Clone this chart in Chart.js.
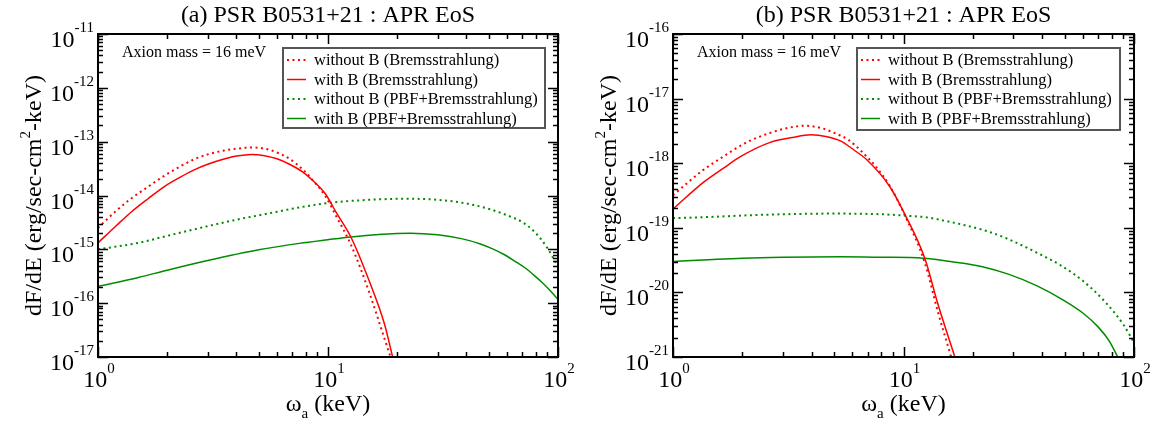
<!DOCTYPE html>
<html>
<head>
<meta charset="utf-8">
<script src="https://cdn.jsdelivr.net/npm/chart.js@4.4.0/dist/chart.umd.min.js"></script>
<style>
body { margin: 0; background: #fff; }
#wrap { position: relative; width: 1165px; height: 428px; }
canvas { position: absolute; top: 0; }
</style>
</head>
<body>
<div id="wrap">
  <canvas id="left_chart" width="600" height="428" style="left:0"></canvas>
  <canvas id="right_chart" width="585" height="428" style="left:580px"></canvas>
</div>
<script>
// series labels (same for both panels)
var series_labels = ["without B (Bremsstrahlung)", "with B (Bremsstrahlung)",
                     "without B (PBF+Bremsstrahlung)", "with B (PBF+Bremsstrahlung)"];

// (a) panel data, omega_a in keV, dF/dE in erg/sec-cm2-keV
var a_brems_noB_x = [1, 1.2, 1.4, 1.65, 1.95, 2.3, 2.62, 3.0, 3.5, 4.0, 4.64, 5.3, 6.0, 6.8, 7.8, 8.7, 9.7, 10.9, 12.6, 15.1, 17.6, 18.7];
var a_brems_noB_y = [2.5e-15, 5.2e-15, 8.9e-15, 1.45e-14, 2.35e-14, 3.55e-14, 4.7e-14, 5.8e-14, 6.8e-14, 7.4e-14, 7.8e-14, 7.4e-14, 6.3e-14, 4.8e-14, 3.0e-14, 1.8e-14, 1.0e-14, 4.0e-15, 1.2e-15, 1.6e-16, 2.2e-17, 1e-17];
var a_brems_B_x = [1, 1.2, 1.4, 1.65, 1.95, 2.3, 2.62, 3.0, 3.5, 4.0, 4.64, 5.3, 6.0, 6.8, 7.8, 8.7, 9.7, 10.9, 12.6, 15.1, 17.6, 19.1];
var a_brems_B_y = [1.32e-15, 2.75e-15, 5.0e-15, 8.7e-15, 1.48e-14, 2.24e-14, 3.0e-14, 3.8e-14, 4.7e-14, 5.4e-14, 5.8e-14, 5.5e-14, 4.8e-14, 3.8e-14, 2.7e-14, 1.8e-14, 1.1e-14, 4.7e-15, 1.66e-15, 2.6e-16, 4.1e-17, 1e-17];
var a_pbf_noB_x = [1, 1.5, 2, 3, 4, 5.6, 7.5, 10.5, 15, 22, 30, 40, 51, 60, 70, 80, 90, 100];
var a_pbf_noB_y = [1.0e-15, 1.32e-15, 1.78e-15, 2.7e-15, 3.55e-15, 4.7e-15, 6.0e-15, 7.4e-15, 8.3e-15, 8.7e-15, 8.3e-15, 7.1e-15, 5.5e-15, 4.3e-15, 3.2e-15, 2.0e-15, 1.05e-15, 4.7e-16];
var a_pbf_B_x = [1, 1.5, 2, 3, 5, 7.5, 10, 12.6, 16, 22.8, 30, 38, 46, 52, 58, 65, 72, 79, 86, 93, 100];
var a_pbf_B_y = [2.05e-16, 3.0e-16, 4.1e-16, 6.2e-16, 9.8e-16, 1.29e-15, 1.51e-15, 1.7e-15, 1.86e-15, 2.0e-15, 1.86e-15, 1.58e-15, 1.26e-15, 1.02e-15, 8.1e-16, 6.0e-16, 4.5e-16, 3.25e-16, 2.34e-16, 1.66e-16, 1.17e-16];

// (b) panel data
var b_brems_noB_x = [1, 1.35, 1.65, 2.03, 2.64, 3.2, 3.69, 4.4, 5.0, 5.77, 6.6, 7.5, 8.7, 10.1, 12.4, 14.1, 16.1];
var b_brems_noB_y = [3.2e-19, 7.8e-19, 1.26e-18, 2.0e-18, 2.95e-18, 3.55e-18, 3.8e-18, 3.5e-18, 2.95e-18, 2.3e-18, 1.5e-18, 9.3e-19, 4.5e-19, 1.6e-19, 2.8e-20, 5e-21, 1e-21];
var b_brems_B_x = [1, 1.35, 1.65, 1.96, 2.64, 3.3, 3.97, 4.6, 5.35, 6.1, 6.95, 8.7, 10.1, 12.4, 14.1, 16.7];
var b_brems_B_y = [1.95e-19, 5.0e-19, 8.3e-19, 1.26e-18, 2.1e-18, 2.5e-18, 2.75e-18, 2.6e-18, 2.2e-18, 1.6e-18, 1.12e-18, 4.4e-19, 1.66e-19, 3.3e-20, 6.6e-21, 1e-21];
var b_pbf_noB_x = [1, 1.5, 2, 3, 5, 8, 10, 12.6, 15, 18, 23, 28.7, 38, 48, 60, 75, 90, 100];
var b_pbf_noB_y = [1.41e-19, 1.48e-19, 1.55e-19, 1.62e-19, 1.66e-19, 1.62e-19, 1.55e-19, 1.45e-19, 1.29e-19, 1.12e-19, 8.9e-20, 6.6e-20, 4.1e-20, 2.63e-20, 1.51e-20, 7.1e-21, 3.16e-21, 1.66e-21];
var b_pbf_B_x = [1, 1.5, 2, 3, 5.35, 8, 12.2, 16, 22, 28.7, 38, 50, 60, 70, 78, 85];
var b_pbf_B_y = [3.0e-20, 3.24e-20, 3.39e-20, 3.5e-20, 3.55e-20, 3.5e-20, 3.39e-20, 3.0e-20, 2.5e-20, 1.9e-20, 1.26e-20, 7.4e-21, 4.8e-21, 2.9e-21, 1.78e-21, 1e-21];

// axes
var x_decades = [1, 10, 100];
var x_tick_exp = ["0", "1", "2"];
var a_y_decades = [1e-17, 1e-16, 1e-15, 1e-14, 1e-13, 1e-12, 1e-11];
var a_y_tick_exp = ["-17", "-16", "-15", "-14", "-13", "-12", "-11"];
var b_y_decades = [1e-21, 1e-20, 1e-19, 1e-18, 1e-17, 1e-16];
var b_y_tick_exp = ["-21", "-20", "-19", "-18", "-17", "-16"];

var RED = "#ff0000";
var GREEN = "#008b00";
var FONT = '"Liberation Serif", "Times New Roman", serif';

function pts(xs, ys) {
    var out = [];
    for (var i = 0; i < xs.length; i++) out.push({x: xs[i], y: ys[i]});
    return out;
}

function ds(label, xs, ys, color, dotted) {
    return {
        label: label,
        data: pts(xs, ys),
        borderColor: color,
        backgroundColor: color,
        borderWidth: dotted ? 2 : 1.5,
        borderDash: dotted ? [2, 3.5] : [],
        pointRadius: 0,
        cubicInterpolationMode: 'monotone',
        fill: false
    };
}

function drawPow(ctx, exp, x, baseY, supY, align) {
    ctx.font = '24px ' + FONT;
    var w1 = ctx.measureText('10').width;
    ctx.font = '15px ' + FONT;
    var w2 = ctx.measureText(exp).width;
    var left = align === 'center' ? x - (w1 + w2) / 2 : x - (w1 + w2);
    ctx.textAlign = 'left';
    ctx.font = '24px ' + FONT;
    ctx.fillText('10', left, baseY);
    ctx.font = '15px ' + FONT;
    ctx.fillText(exp, left + w1, supY);
}

// frame, ticks, labels, legend: xmgrace look
var panelDecor = {
    id: 'panelDecor',
    afterDraw: function(chart) {
        var o = chart.options.plugins.panelDecor;
        var ctx = chart.ctx, a = chart.chartArea;
        var xs = chart.scales.x, ys = chart.scales.y;
        ctx.save();
        ctx.fillStyle = '#000';
        ctx.strokeStyle = '#000';
        ctx.textBaseline = 'alphabetic';

        // ticks on x (bottom + top)
        ctx.lineWidth = 1.5;
        ctx.beginPath();
        for (var i = 0; i < o.xDec.length; i++) {
            for (var m = 1; m <= 9; m++) {
                if (i === o.xDec.length - 1 && m > 1) break;
                var px = Math.round(xs.getPixelForValue(o.xDec[i] * m)) + 0.5;
                var len = m === 1 ? 10 : 5;
                ctx.moveTo(px, a.bottom); ctx.lineTo(px, a.bottom - len);
                ctx.moveTo(px, a.top); ctx.lineTo(px, a.top + len);
            }
        }
        // ticks on y (left + right)
        for (var j = 0; j < o.yDec.length; j++) {
            for (var n = 1; n <= 9; n++) {
                if (j === o.yDec.length - 1 && n > 1) break;
                var py = Math.round(ys.getPixelForValue(o.yDec[j] * n)) + 0.5;
                var l2 = n === 1 ? 10 : 5;
                ctx.moveTo(a.left, py); ctx.lineTo(a.left + l2, py);
                ctx.moveTo(a.right, py); ctx.lineTo(a.right - l2, py);
            }
        }
        ctx.stroke();

        // frame
        ctx.lineWidth = 2;
        ctx.strokeRect(a.left, a.top, a.right - a.left, a.bottom - a.top);

        // tick labels
        for (var k = 0; k < o.xDec.length; k++) {
            var tx = xs.getPixelForValue(o.xDec[k]);
            drawPow(ctx, o.xExp[k], tx + 1, a.bottom + 30, a.bottom + 16, 'center');
        }
        for (var q = 0; q < o.yDec.length; q++) {
            var ty = ys.getPixelForValue(o.yDec[q]);
            drawPow(ctx, o.yExp[q], a.left - 4, ty + 13, ty - 2, 'right');
        }

        // title
        ctx.font = '24px ' + FONT;
        ctx.textAlign = 'center';
        ctx.fillText(o.title, (a.left + a.right) / 2, 22);

        // x axis title: omega_a (keV)
        ctx.font = '24px ' + FONT;
        var w_om = ctx.measureText('\u03c9').width;
        var w_rest = ctx.measureText(' (keV)').width;
        ctx.font = '15px ' + FONT;
        var w_a = ctx.measureText('a').width;
        var sx = (a.left + a.right) / 2 - (w_om + w_a + w_rest) / 2;
        ctx.textAlign = 'left';
        ctx.font = '24px ' + FONT;
        ctx.fillText('\u03c9', sx, a.bottom + 54);
        ctx.fillText(' (keV)', sx + w_om + w_a, a.bottom + 54);
        ctx.font = '15px ' + FONT;
        ctx.fillText('a', sx + w_om, a.bottom + 61);

        // y axis title
        ctx.save();
        ctx.translate(a.left - 57, (a.top + a.bottom) / 2);
        ctx.rotate(-Math.PI / 2);
        ctx.font = '24px ' + FONT;
        var t1 = 'dF/dE (erg/sec-cm', t3 = '-keV)';
        var w1 = ctx.measureText(t1).width, w3 = ctx.measureText(t3).width;
        ctx.font = '15px ' + FONT;
        var w2 = ctx.measureText('2').width;
        var ly = -(w1 + w2 + w3) / 2;
        ctx.font = '24px ' + FONT;
        ctx.fillText(t1, ly, 0);
        ctx.fillText(t3, ly + w1 + w2, 0);
        ctx.font = '15px ' + FONT;
        ctx.fillText('2', ly + w1, -11);
        ctx.restore();

        // annotation
        ctx.font = '16px ' + FONT;
        ctx.textAlign = 'left';
        ctx.fillText(o.note, a.left + 24, 57);

        // legend box
        var bx = a.left + o.legLeft, by = a.top + 14, bw = a.right - o.legRight - bx, bh = o.legH;
        ctx.fillStyle = '#fff';
        ctx.fillRect(bx, by, bw, bh);
        ctx.strokeStyle = '#555';
        ctx.lineWidth = 2;
        ctx.strokeRect(bx, by, bw, bh);
        var dsets = chart.data.datasets;
        for (var r = 0; r < dsets.length; r++) {
            var ry = by + 12 + r * 19.5;
            ctx.strokeStyle = dsets[r].borderColor;
            ctx.lineWidth = dsets[r].borderWidth;
            ctx.setLineDash(dsets[r].borderDash);
            ctx.beginPath();
            ctx.moveTo(bx + 4, ry);
            ctx.lineTo(bx + 23, ry);
            ctx.stroke();
            ctx.setLineDash([]);
            ctx.fillStyle = '#000';
            ctx.font = '16.5px ' + FONT;
            ctx.fillText(dsets[r].label, bx + 31, ry + 5);
        }
        ctx.restore();
    }
};

function makePanel(id, padding, ymin, ymax, datasets, decor) {
    var ctx = document.getElementById(id).getContext("2d");
    return new Chart(ctx, {
        type: "line",
        data: { datasets: datasets },
        options: {
            responsive: false,
            animation: false,
            layout: { padding: padding },
            scales: {
                x: { type: 'logarithmic', min: 1, max: 100, display: false },
                y: { type: 'logarithmic', min: ymin, max: ymax, display: false }
            },
            plugins: {
                legend: { display: false },
                tooltip: { enabled: false },
                panelDecor: decor
            }
        },
        plugins: [panelDecor]
    });
}

var chartA = makePanel("left_chart", {left: 98, right: 42, top: 34, bottom: 71}, 1e-17, 1e-11, [
    ds(series_labels[0], a_brems_noB_x, a_brems_noB_y, RED, true),
    ds(series_labels[1], a_brems_B_x, a_brems_B_y, RED, false),
    ds(series_labels[2], a_pbf_noB_x, a_pbf_noB_y, GREEN, true),
    ds(series_labels[3], a_pbf_B_x, a_pbf_B_y, GREEN, false)
], {
    title: "(a) PSR B0531+21 : APR EoS", note: "Axion mass = 16 meV",
    xDec: x_decades, xExp: x_tick_exp, yDec: a_y_decades, yExp: a_y_tick_exp,
    legLeft: 185, legRight: 13, legH: 80
});

var chartB = makePanel("right_chart", {left: 93, right: 31, top: 34, bottom: 71}, 1e-21, 1e-16, [
    ds(series_labels[0], b_brems_noB_x, b_brems_noB_y, RED, true),
    ds(series_labels[1], b_brems_B_x, b_brems_B_y, RED, false),
    ds(series_labels[2], b_pbf_noB_x, b_pbf_noB_y, GREEN, true),
    ds(series_labels[3], b_pbf_B_x, b_pbf_B_y, GREEN, false)
], {
    title: "(b) PSR B0531+21 : APR EoS", note: "Axion mass = 16 meV",
    xDec: x_decades, xExp: x_tick_exp, yDec: b_y_decades, yExp: b_y_tick_exp,
    legLeft: 184, legRight: 14, legH: 82
});
</script>
</body>
</html>
